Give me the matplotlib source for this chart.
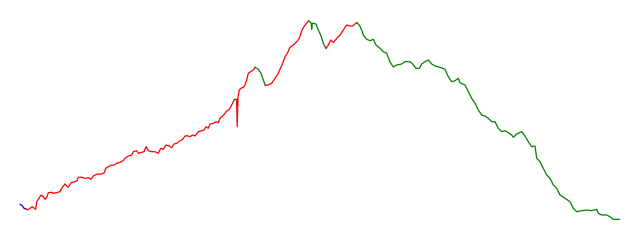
import matplotlib
matplotlib.use("Agg")
import matplotlib.pyplot as plt

# position along the series and level (higher number = lower on chart)
x = [20, 22.3, 24, 26,
     27.3, 30, 32.3, 34.3, 35.7, 36.7, 39, 41, 43.3, 45, 46.7, 48.3, 51.7, 53.3, 56.7, 60, 61.7, 65, 66.7, 68.3,
     71, 75, 77, 78.3, 81.7, 85, 88.3, 91, 93.3, 96.7, 101.7, 104.3, 105.7, 108.3, 111.7, 114.3, 116.7, 120,
     123.3, 125, 128.3, 131.7, 133.3, 136.7, 138.3, 141.7, 144, 146, 148.3, 151.7, 155, 158.3, 160.7, 163.3,
     166, 169.3, 171.7, 174, 176.7, 179.3, 182.7, 185, 187.3, 190, 192.7, 195, 198.3, 201.7, 204, 206, 208.3,
     210, 213.3, 216, 218.3, 220, 222.7, 225, 226.7, 229.3, 231.7, 233.3, 234.3,
     235.2, 236.6,
     237.2, 238, 239.3, 240.7, 243.3, 245, 246.7, 248.3, 250.7, 253.3, 255,
     258.3, 261, 263.3, 265.3,
     268.3, 271.7, 275, 278.3, 280, 282.7, 285, 287.3, 290, 293.3, 296.7, 299.3, 301.7, 304, 306, 308.3,
     310, 311.2, 311.7, 312.2, 313.3, 316, 318.3, 320.7, 323.3, 326,
     328.3, 330.7, 333.3, 336.7, 340, 343.3, 346.7, 349.3, 352.7, 355, 356.7,
     359.3, 361.7, 363.3, 366.7, 370, 373.3, 376, 380, 383.3, 386.7, 390, 393.3, 396.7, 401.7, 405, 410,
     412.7, 416, 419.3, 421.7, 425, 428.3, 431.7, 435, 440, 445, 448.3, 451.7, 455, 458.3, 460, 465, 468.3,
     471.7, 475, 478.3, 481.7, 485, 488.3, 491.7, 495, 498.3, 501.7, 505, 508.3, 511.7, 513.3, 516.7, 521.7,
     525, 528.3, 531.7, 535, 536.7, 540, 543.3, 546.7, 550, 553.3, 556.7, 560, 565, 570, 573.3, 576.7, 581.7,
     586.7, 591.7, 596.7, 598.3, 601.7, 606.7, 610, 613.3, 619.3]
y = [204.3, 205.7, 208.3, 209,
     210, 208.3, 206.7, 208.3, 209.3, 201.7, 198.3, 195, 196.7, 199.3, 197.3, 192.7, 192.3, 193.3, 192.7, 191.7,
     188.3, 184, 186, 187.3, 182.7, 181.7, 180.7, 177.3, 177.3, 178.3, 177.7, 179.3, 176, 174.3, 174, 172.7,
     168.3, 166.7, 165, 165, 163.3, 162.3, 160.7, 158.3, 156, 155, 151.7, 150.7, 153.3, 152.3, 151.7, 146.7,
     150.7, 151.7, 151.7, 153.3, 148.3, 149.3, 145, 146, 147.7, 144, 143.3, 141.3, 139.3, 136, 135.7, 136.7,
     135, 136, 131.7, 130.7, 130, 126.7, 128.3, 124, 123.3, 121.7, 122.7, 118.3, 116, 113.3, 111, 109.3, 105,
     101.7, 99.3,
     99.3, 99.3,
     126.7, 97, 90, 88.3, 87.3, 85, 80, 73.3, 71.7, 70, 67.3,
     69.3, 73.3, 80, 85.3,
     85, 83.3, 78.3, 73.3, 69.3, 63.3, 56.7, 53.3, 47.3, 45, 41.7, 38.3, 30.7, 26.7, 24, 21,
     21.7, 23.3, 29.3, 23.3, 23.3, 24, 30, 35, 43.3, 48.3,
     45, 40, 42.7, 38.3, 35, 30, 25, 26, 26, 24, 22.7,
     25, 30, 35, 39.3, 40.7, 39.3, 45, 48.3, 51.7, 53.3, 62, 67, 65, 64, 61.7, 61.7,
     64, 68.3, 68.3, 64, 61.7, 60, 64, 66, 67.3, 69.3, 76.7, 81.7, 80.7, 78.3, 82.7, 85, 91.7,
     98.3, 103.3, 110, 115, 116, 118.3, 121.7, 121.7, 128.3, 131.7, 130.7, 132.7, 135, 137.3, 134, 131.7,
     136, 141.7, 146.7, 146, 158.3, 161.7, 168.3, 175, 178.3, 185, 188.3, 195, 198.3, 201.7, 208.3, 211.7, 210.7,
     210, 210.7, 209.3, 213.3, 215, 215, 216.7, 219.3, 219.3]

# colour regimes and the x position where each regime ends
regime_colors = ["blue", "red", "green", "red", "green", "red", "green", "red", "green"]
regime_ends = [26, 234.3, 236.6, 255, 265.3, 308.3, 326, 356.7, 619.3]

fig = plt.figure(figsize=(6.4, 2.4), dpi=100)
ax = fig.add_axes([0, 0, 1, 1])
ax.set_xlim(0, 640)
ax.set_ylim(240, 0)
ax.axis("off")

start = 0
for col, end in zip(regime_colors, regime_ends):
    idx = [i for i, xv in enumerate(x) if xv <= end + 1e-9]
    stop = idx[-1]
    s = max(start - 1, 0)
    ax.plot(x[s:stop + 1], y[s:stop + 1], color=col, lw=0.9, solid_joinstyle="round")
    start = stop + 1

fig.savefig("out.png", dpi=100)
